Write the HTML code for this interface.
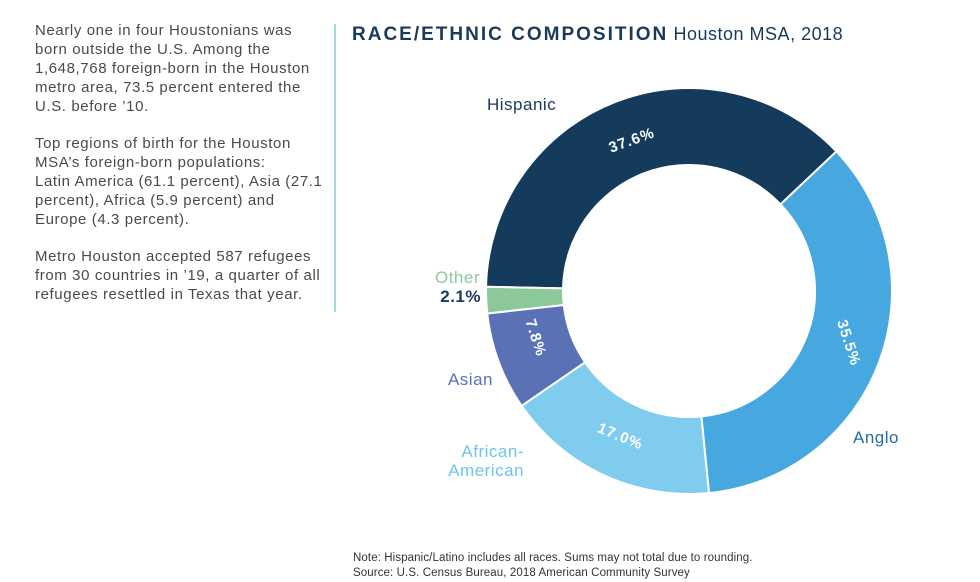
<!DOCTYPE html>
<html><head><meta charset="utf-8"><style>
body{margin:0;width:980px;height:582px;background:#fff;position:relative;overflow:hidden;font-family:"Liberation Sans",sans-serif}
.p{position:absolute;left:35px;width:300px;font-size:15px;line-height:19.1px;color:#4a4a4a;white-space:nowrap;letter-spacing:0.6px}
.vl{position:absolute;left:334px;top:24px;width:2px;height:288px;background:#a6d6df}
.t{position:absolute;left:352px;top:24px;font-size:19px;color:#1a3a5a;white-space:nowrap}
.t b{letter-spacing:2px}
.n{position:absolute;left:353px;top:551px;font-size:11.5px;line-height:15px;color:#333;letter-spacing:0.1px}
</style></head><body>
<div class="p" style="top:21px">Nearly one in four Houstonians was<br>born outside the U.S. Among the<br>1,648,768 foreign-born in the Houston<br>metro area, 73.5 percent entered the<br>U.S. before ’10.</div>
<div class="p" style="top:134px">Top regions of birth for the Houston<br>MSA’s foreign-born populations:<br>Latin America (61.1 percent), Asia (27.1<br>percent), Africa (5.9 percent) and<br>Europe (4.3 percent).</div>
<div class="p" style="top:247px">Metro Houston accepted 587 refugees<br>from 30 countries in ’19, a quarter of all<br>refugees resettled in Texas that year.</div>
<div class="vl"></div>
<div class="t"><b>RACE/ETHNIC COMPOSITION</b> <span style="font-size:18px;letter-spacing:0.5px">Houston MSA, 2018</span></div>
<svg id="s" width="980" height="582" style="position:absolute;left:0;top:0" font-family="Liberation Sans, sans-serif"></svg>
<div class="n">Note: Hispanic/Latino includes all races. Sums may not total due to rounding.<br>Source: U.S. Census Bureau, 2018 American Community Survey</div>
<script>
var cx=689,cy=291,R=203,r=126,a=271.2;
var d=[[37.6,"#143a5c"],[35.5,"#47a8e0"],[17.0,"#80ccef"],[7.8,"#5b71b6"],[2.1,"#8dc89b"]];
var s="";
function pt(ang,rad){var t=ang*Math.PI/180;return [cx+rad*Math.sin(t),cy-rad*Math.cos(t)];}
d.forEach(function(e){var sw=e[0]*3.6,b=a+sw,l=sw>180?1:0;
var p1=pt(a,R),p2=pt(b,R),p3=pt(b,r),p4=pt(a,r);
s+='<path d="M'+p1+' A'+R+','+R+' 0 '+l+' 1 '+p2+' L'+p3+' A'+r+','+r+' 0 '+l+' 0 '+p4+'Z" fill="'+e[1]+'" stroke="#fff" stroke-width="2"/>';a=b;});
function tx(x,y,rot,t){return '<text x="'+x+'" y="'+y+'" transform="rotate('+rot+' '+x+' '+y+')" text-anchor="middle" dominant-baseline="middle" fill="#fff" font-weight="bold" font-size="15" letter-spacing="1">'+t+'</text>';}
s+=tx(632,141,-20,"37.6%")+tx(848,343,72,"35.5%")+tx(620,437,22,"17.0%")+tx(535,338,72,"7.8%");
function lb(x,y,c,t,w,a2){return '<text x="'+x+'" y="'+y+'" fill="'+c+'" font-size="17" font-weight="'+(w||'normal')+'" text-anchor="'+(a2||'start')+'" letter-spacing="0.5">'+t+'</text>';}
s+=lb(487,110,"#1a3a5a","Hispanic")+lb(853,443,"#1f6fa8","Anglo")+lb(480,283,"#8dc89b","Other",0,"end")+lb(481,302,"#1a3a5a","2.1%","bold","end")+lb(493,385,"#5b71b6","Asian",0,"end")+lb(524,457,"#6cc3ec","African-",0,"end")+lb(524,476,"#6cc3ec","American",0,"end");
document.getElementById("s").innerHTML=s;
</script>
</body></html>
